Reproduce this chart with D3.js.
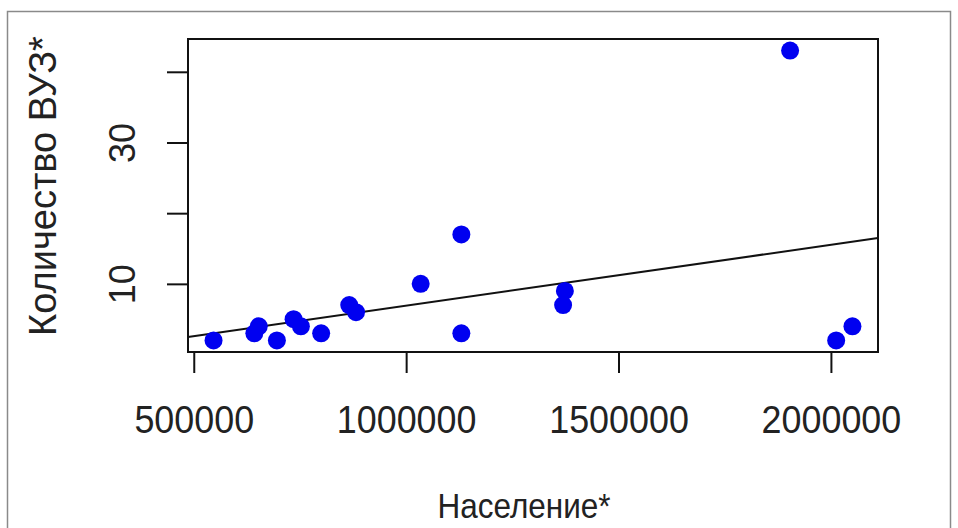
<!DOCTYPE html>
<html>
<head>
<meta charset="utf-8">
<script src="https://cdn.jsdelivr.net/npm/d3@7/dist/d3.min.js"></script>
<style>
  html, body { margin: 0; padding: 0; background: #fff; }
  svg { display: block; }
  text { font-family: "Liberation Sans", Arial, sans-serif; fill: #222; }
</style>
</head>
<body>
<svg id="chart" width="958" height="528"></svg>
<script>
// Population (x) and number of universities (y)
const population = [546600, 642600, 653100, 695700, 735000, 752200, 799900, 866000, 882000,
                    1034200, 1130000, 1130000, 1373700, 1369500, 1903900, 2012400, 2050700];
const universities = [2, 3, 4, 2, 5, 4, 3, 7, 6, 10, 17, 3, 9, 7, 43, 2, 4];
const xTicks = [500000, 1000000, 1500000, 2000000];
const yTicks = [10, 20, 30, 40];
const yTickLabels = ["10", "", "30", ""];
const xTitle = "Население*";
const yTitle = "Количество ВУЗ*";

const svg = d3.select("#chart");
const plot = { left: 188, right: 878, top: 39, bottom: 352 };

// outer frame
svg.append("rect").attr("x", 7.5).attr("y", 11.5).attr("width", 943).attr("height", 530)
  .attr("fill", "none").attr("stroke", "#8a8a8a").attr("stroke-width", 1.5);

// R-style 4% axis extension
function ext(arr) {
  const [a, b] = d3.extent(arr);
  const r = b - a;
  return [a - 0.04 * r, b + 0.04 * r];
}
const x = d3.scaleLinear().domain(ext(population)).range([plot.left, plot.right]);
const y = d3.scaleLinear().domain(ext(universities)).range([plot.bottom, plot.top]);

// axes
const xAxis = d3.axisBottom(x).tickValues(xTicks).tickSize(21).tickPadding(12)
  .tickFormat(d => String(d));
const gx = svg.append("g").attr("transform", `translate(0,${plot.bottom})`).call(xAxis);
gx.select(".domain").remove();
gx.selectAll(".tick line").attr("stroke", "#111").attr("stroke-width", 2);
gx.selectAll(".tick text").attr("font-size", 39).attr("fill", "#222")
  .attr("font-family", "Liberation Sans, Arial, sans-serif")
  .attr("dy", null).attr("y", 81)
  .attr("transform", "scale(0.92,1)");

const yAxis = d3.axisLeft(y).tickValues(yTicks).tickSize(21)
  .tickFormat((d, i) => yTickLabels[i]);
const gy = svg.append("g").attr("transform", `translate(${plot.left},0)`).call(yAxis);
gy.select(".domain").remove();
gy.selectAll(".tick line").attr("stroke", "#111").attr("stroke-width", 2);
gy.selectAll(".tick text")
  .attr("font-size", 36).attr("fill", "#222")
  .attr("font-family", "Liberation Sans, Arial, sans-serif")
  .attr("x", null).attr("dy", null)
  .attr("text-anchor", "middle")
  .attr("transform", "translate(-53,0) rotate(-90)");

// plot box
svg.append("rect").attr("x", plot.left).attr("y", plot.top)
  .attr("width", plot.right - plot.left).attr("height", plot.bottom - plot.top)
  .attr("fill", "none").attr("stroke", "#111").attr("stroke-width", 2);

// regression line (least squares)
const mx = d3.mean(population), my = d3.mean(universities);
let sxy = 0, sxx = 0;
population.forEach((v, i) => { sxy += (v - mx) * (universities[i] - my); sxx += (v - mx) * (v - mx); });
const slope = sxy / sxx, intercept = my - slope * mx;
const [d0, d1] = x.domain();
svg.append("line")
  .attr("x1", x(d0)).attr("y1", y(intercept + slope * d0))
  .attr("x2", x(d1)).attr("y2", y(intercept + slope * d1))
  .attr("stroke", "#111").attr("stroke-width", 2);

// points
svg.append("g").selectAll("circle").data(population).join("circle")
  .attr("cx", d => x(d))
  .attr("cy", (d, i) => y(universities[i]))
  .attr("r", 9)
  .attr("fill", "#0000f0");

// titles
svg.append("text").attr("transform", "translate(524,518) scale(0.9,1)")
  .attr("text-anchor", "middle").attr("font-size", 35).text(xTitle);
svg.append("text").attr("transform", "translate(56,186) rotate(-90)")
  .attr("text-anchor", "middle").attr("font-size", 38).text(yTitle);
</script>
</body>
</html>
